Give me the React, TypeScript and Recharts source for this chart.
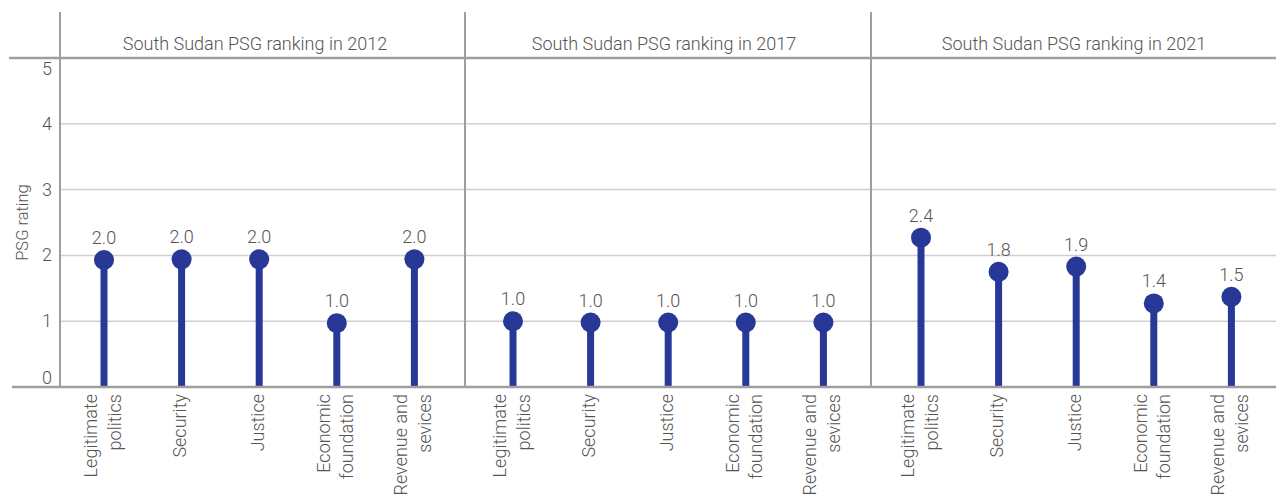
import { ComposedChart, Bar, XAxis, YAxis, CartesianGrid, LabelList } from 'recharts';

const categories = [
  'Legitimate\npolitics',
  'Security',
  'Justice',
  'Economic\nfoundation',
  'Revenue and\nsevices',
];
const years = ['2012', '2017', '2021'];

// plotted heights, printed labels kept separately
const values2012 = [1.93, 1.94, 1.94, 0.97, 1.94];
const labels2012 = ['2.0', '2.0', '2.0', '1.0', '2.0'];
const values2017 = [1.0, 0.98, 0.98, 0.98, 0.98];
const labels2017 = ['1.0', '1.0', '1.0', '1.0', '1.0'];
const values2021 = [2.27, 1.75, 1.83, 1.27, 1.37];
const labels2021 = ['2.4', '1.8', '1.9', '1.4', '1.5'];
const yTicks = [0, 1, 2, 3, 4, 5];

const BLUE = '#283897';
const TEXT = '#555';
const LINE = '#9e9e9e';
const FONT = 'Roboto, sans-serif';

const H = 496;
const TOP = 58;
const BOTTOM = 387;

const build = (values: number[], labels: string[]) =>
  categories.map((name, i) => ({ name, value: values[i], label: labels[i] }));

const panels = [
  { year: years[0], data: build(values2012, labels2012), left: 0, width: 465, yAxis: true, padding: { left: 5, right: 12 } },
  { year: years[1], data: build(values2017, labels2017), left: 465, width: 406, yAxis: false, padding: { left: 9, right: 9 } },
  { year: years[2], data: build(values2021, labels2021), left: 871, width: 405, yAxis: false, padding: { left: 11, right: 6 } },
];

const Lollipop = (props: any) => {
  const { x, y, width, height } = props;
  const cx = x + width / 2;
  return (
    <g>
      <rect x={cx - 3.5} y={y} width={7} height={height} fill={BLUE} />
      <circle cx={cx} cy={y} r={10} fill={BLUE} />
    </g>
  );
};

const CategoryTick = (props: any) => {
  const { x, y, payload } = props;
  const lines = String(payload.value).split('\n');
  return (
    <g>
      {lines.map((ln, i) => {
        const bx = x + 5 + (i - (lines.length - 1) / 2) * 23.5;
        return (
          <text
            key={i}
            transform={`translate(${bx},${y - 1}) rotate(-90)`}
            textAnchor="end"
            fill={TEXT}
            fontSize={18}
            fontFamily={FONT}
            fontWeight={300}
          >
            {ln}
          </text>
        );
      })}
    </g>
  );
};

const ValueTick = (props: any) => {
  const { x, y, payload } = props;
  let dy = 6;
  if (payload.value === 0) dy = -3;
  if (payload.value === 5) dy = 17;
  return (
    <text x={x} y={y + dy} textAnchor="end" fill={TEXT} fontSize={18} fontFamily={FONT} fontWeight={300}>
      {payload.value}
    </text>
  );
};

function Panel({ p }: { p: (typeof panels)[number] }) {
  return (
    <div style={{ position: 'absolute', left: p.left, top: 0 }}>
      <ComposedChart width={p.width} height={H} data={p.data} margin={{ top: TOP, right: 0, bottom: 0, left: 0 }}>
        <CartesianGrid vertical={false} stroke="#cfcfcf" strokeWidth={1.5} />
        <XAxis
          dataKey="name"
          height={H - BOTTOM}
          axisLine={false}
          tickLine={false}
          tickSize={6}
          tickMargin={2}
          interval={0}
          padding={p.padding}
          tick={<CategoryTick />}
        />
        <YAxis
          hide={!p.yAxis}
          type="number"
          domain={[0, 5]}
          ticks={yTicks}
          width={60}
          axisLine={false}
          tickLine={false}
          tickSize={6}
          tickMargin={2}
          tick={<ValueTick />}
        />
        <Bar dataKey="value" barSize={20} shape={<Lollipop />} isAnimationActive={false}>
          <LabelList
            dataKey="label"
            position="top"
            offset={16}
            fill={TEXT}
            fontSize={18}
            fontFamily={FONT}
            fontWeight={300}
          />
        </Bar>
      </ComposedChart>
    </div>
  );
}

export default function App() {
  return (
    <div style={{ position: 'absolute', left: 0, top: 0, width: 1276, height: H, background: '#fff' }}>
      {panels.map((p) => (
        <Panel key={p.year} p={p} />
      ))}
      <svg width={1276} height={H} style={{ position: 'absolute', left: 0, top: 0, pointerEvents: 'none' }}>
        <line x1={9} x2={1276} y1={TOP} y2={TOP} stroke={LINE} strokeWidth={2.5} />
        <line x1={12} x2={1276} y1={BOTTOM} y2={BOTTOM} stroke={LINE} strokeWidth={2.5} />
        {[60, 465, 871].map((x) => (
          <line key={x} x1={x} x2={x} y1={12} y2={BOTTOM} stroke={LINE} strokeWidth={2} />
        ))}
        {[
          { year: years[0], cx: 255 },
          { year: years[1], cx: 664 },
          { year: years[2], cx: 1074 },
        ].map((h) => (
          <text key={h.year} x={h.cx} y={50} textAnchor="middle" fill={TEXT} fontSize={18} fontFamily={FONT} fontWeight={300}>
            {`South Sudan PSG ranking in ${h.year}`}
          </text>
        ))}
        <text
          transform={`translate(28,${(TOP + BOTTOM) / 2}) rotate(-90)`}
          textAnchor="middle"
          fill={TEXT}
          fontSize={16.5}
          fontFamily={FONT}
          fontWeight={300}
        >
          PSG rating
        </text>
      </svg>
    </div>
  );
}
